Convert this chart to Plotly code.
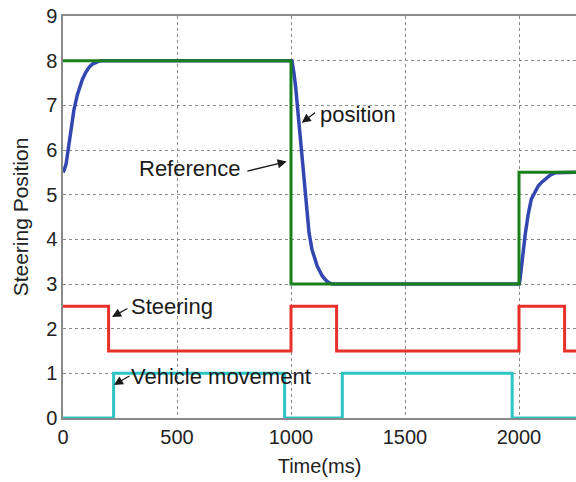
import plotly.graph_objects as go

# Reference command (step), in ms / position units
ref_time = [0, 1000, 2000, 2250]
ref_pos = [8, 3, 5.5, 5.5]

# Measured steering position response
pos_time = [0, 6, 14, 22, 34, 48, 63, 85, 100, 114, 128, 143, 158, 173, 1000, 1004, 1012,
            1020, 1035, 1050, 1064, 1079, 1092, 1100, 1108, 1115, 1123, 1137, 1152, 1165,
            1180, 2000, 2004, 2010, 2018, 2027, 2040, 2054, 2070, 2085, 2100, 2114, 2135,
            2158, 2250]
pos_val = [5.5, 5.56, 5.7, 6.0, 6.46, 6.9, 7.24, 7.58, 7.74, 7.85, 7.92, 7.96, 7.99, 8.0,
           8.0, 8.0, 7.75, 7.43, 6.6, 5.8, 4.9, 4.15, 3.77, 3.62, 3.5, 3.4, 3.32, 3.18,
           3.09, 3.03, 3.0, 3.0, 3.08, 3.3, 3.7, 4.1, 4.55, 4.9, 5.06, 5.2, 5.28, 5.34,
           5.43, 5.49, 5.5]

# Steering signal (step levels)
steer_time = [0, 200, 1000, 1200, 2000, 2200, 2250]
steer_val = [2.5, 1.5, 2.5, 1.5, 2.5, 1.5, 1.5]

# Vehicle movement flag
move_time = [0, 222, 972, 1225, 1970, 2250]
move_val = [0, 1, 0, 1, 0, 0]

x_ticks = [0, 500, 1000, 1500, 2000]
y_ticks = list(range(0, 10))

FONT = "Liberation Sans, Arial, sans-serif"

fig = go.Figure()
fig.add_trace(go.Scatter(x=move_time, y=move_val, mode="lines", line_shape="hv",
                         line=dict(color="#2ec4c4", width=3), cliponaxis=False))
fig.add_trace(go.Scatter(x=steer_time, y=steer_val, mode="lines", line_shape="hv",
                         line=dict(color="#e8302a", width=3), cliponaxis=False))
fig.add_trace(go.Scatter(x=pos_time, y=pos_val, mode="lines",
                         line=dict(color="#3347b0", width=3.5), cliponaxis=False))
fig.add_trace(go.Scatter(x=ref_time, y=ref_pos, mode="lines", line_shape="hv",
                         line=dict(color="#1a801a", width=3), cliponaxis=False))

labels = [
    # text, text left x, text y, arrow head x, head y, tail x, tail y
    ("Reference", 328, 5.58, 981, 5.74, 802, 5.52),
    ("position", 1124, 6.79, 1047, 6.61, 1112, 6.86),
    ("Steering", 292, 2.49, 215, 2.26, 289, 2.47),
    ("Vehicle movement", 296, 0.94, 223, 0.74, 298, 0.96),
]
for text, tx, ty, hx, hy, sx, sy in labels:
    fig.add_annotation(x=tx, y=ty, text=text, showarrow=False, xanchor="left",
                       yanchor="middle", borderpad=0,
                       font=dict(family=FONT, size=22, color="#1a1a1a"))
    fig.add_annotation(x=hx, y=hy, ax=sx, ay=sy, axref="x", ayref="y", text="",
                       showarrow=True, arrowhead=2, arrowsize=1.4, arrowwidth=1.3,
                       arrowcolor="#1a1a1a")

fig.update_layout(
    width=576, height=482,
    margin=dict(l=63, r=0, t=16, b=64),
    paper_bgcolor="white", plot_bgcolor="white",
    showlegend=False,
    font=dict(family=FONT, size=20, color="#222"),
)
fig.update_xaxes(
    range=[0, 2250], tickvals=x_ticks, ticktext=[str(v) for v in x_ticks],
    showgrid=True, gridcolor="#8a8a8a", griddash="dot", gridwidth=1,
    showline=True, linecolor="#8a8a8a", linewidth=1.5, mirror=True,
    zeroline=False, ticks="", ticklen=0,
    title=dict(text="Time(ms)", font=dict(size=20), standoff=12),
)
fig.update_yaxes(
    range=[0, 9], tickvals=y_ticks,
    showgrid=True, gridcolor="#8a8a8a", griddash="dot", gridwidth=1,
    showline=True, linecolor="#8a8a8a", linewidth=1.5,
    zeroline=False, ticks="", ticklen=0,
    title=dict(text="Steering Position", font=dict(size=21), standoff=12),
)

fig.write_html("out.html")
